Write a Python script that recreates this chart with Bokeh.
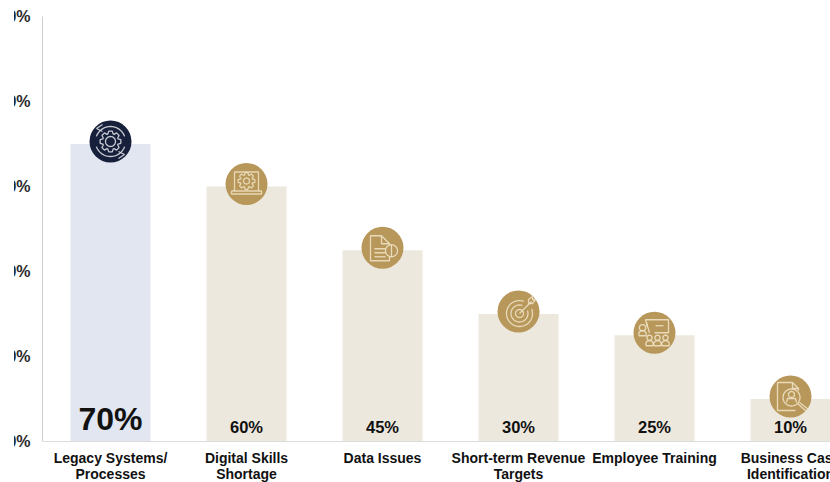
import numpy as np
from bokeh.embed import file_html
from bokeh.models import Range1d
from bokeh.plotting import figure
from bokeh.resources import INLINE
from bokeh.core.properties import value

categories = ["Legacy Systems/\nProcesses", "Digital Skills\nShortage", "Data Issues",
              "Short-term Revenue\nTargets", "Employee Training", "Business Case\nIdentification"]
shares = [70, 60, 45, 30, 25, 10]
share_labels = ["70%", "60%", "45%", "30%", "25%", "10%"]
y_ticks = [0, 20, 40, 60, 80, 100]
y_tick_labels = ["0%", "20%", "40%", "60%", "80%", "100%"]

BAR_BLUE = "#e1e6f0"
BAR_SAND = "#ede8de"
GOLD = "#b8975a"
NAVY = "#17203a"
INK = "#111111"

PX_X = 136.0   # pixels per category step
PX_Y = 4.25    # pixels per percentage point
X_LEFT = -0.5  # position of the vertical axis line
X_END = 720 / PX_X

# The frame fills the page, so axis lines and labels are drawn in data space around the bars
p = figure(width=830, height=482, output_backend="svg", toolbar_location=None,
           x_range=Range1d(-110 / PX_X, X_END), y_range=Range1d(-41 / PX_Y, 441 / PX_Y),
           min_border=0, outline_line_color=None,
           background_fill_color="white", border_fill_color="white")
p.grid.visible = False
p.axis.visible = False
# The slide's left margin hides the leading digits of the tick labels
p.styles = {"clip-path": "inset(0 0 0 14px)"}

idx = list(range(len(categories)))
bar_colors = [BAR_BLUE] + [BAR_SAND] * 5
p.vbar(x=idx, top=shares, bottom=0, width=80 / PX_X, color=bar_colors, line_color=None)

p.segment(x0=[X_LEFT], y0=[0], x1=[X_LEFT], y1=[y_ticks[-1]], line_color="#cfcfcf", line_width=1)
p.segment(x0=[X_LEFT], y0=[0], x1=[X_END], y1=[0], line_color="#dcdcdc", line_width=1)

# Badge sitting on each bar top
badge_y = [v + 2.5 / PX_Y for v in shares]
badge_colors = [NAVY] + [GOLD] * 5
p.scatter(x=idx, y=badge_y, size=42, color=badge_colors, line_color=None)


def ring(cx, cy, r, a0=0.0, a1=360.0, n=40):
    t = np.radians(np.linspace(a0, a1, n))
    return list(cx + r * np.cos(t)), list(cy + r * np.sin(t))


def gear(cx, cy, r_out, r_in, teeth=8):
    xs, ys = [], []
    step = 2 * np.pi / teeth
    for k in range(teeth):
        a = step * k
        for da, r in ((-0.42, r_in), (-0.22, r_out), (0.22, r_out), (0.42, r_in)):
            xs.append(cx + r * np.cos(a + da * step))
            ys.append(cy + r * np.sin(a + da * step))
    xs.append(xs[0])
    ys.append(ys[0])
    return xs, ys


def seg(*pts):
    return [q[0] for q in pts], [q[1] for q in pts]


def person(cx, cy, r=2.6):
    return [ring(cx, cy, r, n=20),
            seg((cx - 3.6, cy + 8), (cx - 3.6, cy + 5), (cx - 2, cy + 3.2), (cx + 2, cy + 3.2),
                (cx + 3.6, cy + 5), (cx + 3.6, cy + 8), (cx - 3.6, cy + 8))]


# Line-art icons, offsets in pixels from the badge centre (y pointing down)
icon_cycle = [ring(0, 0, 15, 20, 160), ring(0, 0, 15, 200, 340),
              seg((-8, -17), (-14, -13), (-8, -10)), seg((8, 17), (14, 13), (8, 10)),
              gear(0, 0, 10.5, 8), ring(0, 0, 5)]
icon_laptop = [seg((-12, 7), (-12, -12), (12, -12), (12, 7)),
               seg((-15, 7), (15, 7), (15, 10), (-15, 10), (-15, 7)),
               gear(0, -3, 8.5, 6.2), ring(0, -3, 3)]
icon_doc = [seg((-1, -12), (-12, -12), (-12, 13), (7, 13), (7, 9)),
            seg((-1, -12), (7, -4), (7, -3)), seg((-1, -12), (-1, -4), (7, -4)),
            seg((-8, 1), (3, 1)), seg((-8, 5), (3, 5)), seg((-8, 9), (3, 9)),
            ring(9, 3, 6), seg((9, -3), (9, 9))]
icon_target = [ring(1, 2, 13, -20, 290), ring(1, 2, 8.5, -20, 290), ring(1, 2, 4),
               seg((1, 2), (13, -10)), seg((10, -8), (10, -12), (14, -15), (14, -12), (17, -12), (14, -8), (10, -8))]
icon_training = [seg((-7, -6), (-9, -13), (14, -13), (14, 0), (0, 0)), seg((1, -7), (9, -7)),
                 seg((-5, 0), (-8, -10))] + person(-12, -5, 3.2) + person(-5, 5) + person(3, 5) + person(11, 5)
icon_search = [seg((2, -14), (-13, -14), (-13, 14), (5, 14)), seg((2, -14), (8, -8), (8, -6)),
               seg((2, -14), (2, -8), (8, -8)),
               ring(1, 1, 8.5), ring(1, -2, 3), seg((-4, 6), (-3, 2), (5, 2), (6, 6)),
               seg((7, 7), (16, 15)), seg((9, 6), (18, 13))]
icons = [icon_cycle, icon_laptop, icon_doc, icon_target, icon_training, icon_search]
icon_colors = ["#e6e8ed", "#efe2c4", "#f1e5ca", "#f1e5ca", "#f1e5ca", "#f1e5ca"]

for i, icon in enumerate(icons):
    xs = [[i + dx / PX_X for dx in path[0]] for path in icon]
    ys = [[badge_y[i] - dy / PX_Y for dy in path[1]] for path in icon]
    p.multi_line(xs=xs, ys=ys, line_color=icon_colors[i], line_width=1.3, line_alpha=0.85)

FONT = value("Liberation Sans")

# Share labels at the foot of each bar
p.text(x=idx[:1], y=[5.2], text=share_labels[:1], text_align="center", text_baseline="middle",
       text_font=FONT, text_font_style="bold", text_font_size="32px", text_color=INK)
p.text(x=idx[1:], y=[3.3] * 5, text=share_labels[1:], text_align="center", text_baseline="middle",
       text_font=FONT, text_font_style="bold", text_font_size="16.5px", text_color=INK)

# Value-axis labels, right-aligned 12 px left of the axis line
p.text(x=[X_LEFT - 12 / PX_X] * len(y_ticks), y=y_ticks, text=y_tick_labels, text_align="right",
       text_baseline="middle", text_font=FONT, text_font_style="bold", text_font_size="16px",
       text_color="#2a2a2a")

# Category labels, one text per line below the baseline
for row, offset in enumerate((16, 32)):
    rows = [(i, c.split("\n")[row]) for i, c in enumerate(categories) if len(c.split("\n")) > row]
    p.text(x=[r[0] for r in rows], y=[-offset / PX_Y] * len(rows), text=[r[1] for r in rows],
           text_align="center", text_baseline="middle", text_font=FONT, text_font_style="bold",
           text_font_size="14px", text_color=INK)

with open("out.html", "w") as fh:
    fh.write(file_html(p, INLINE))
